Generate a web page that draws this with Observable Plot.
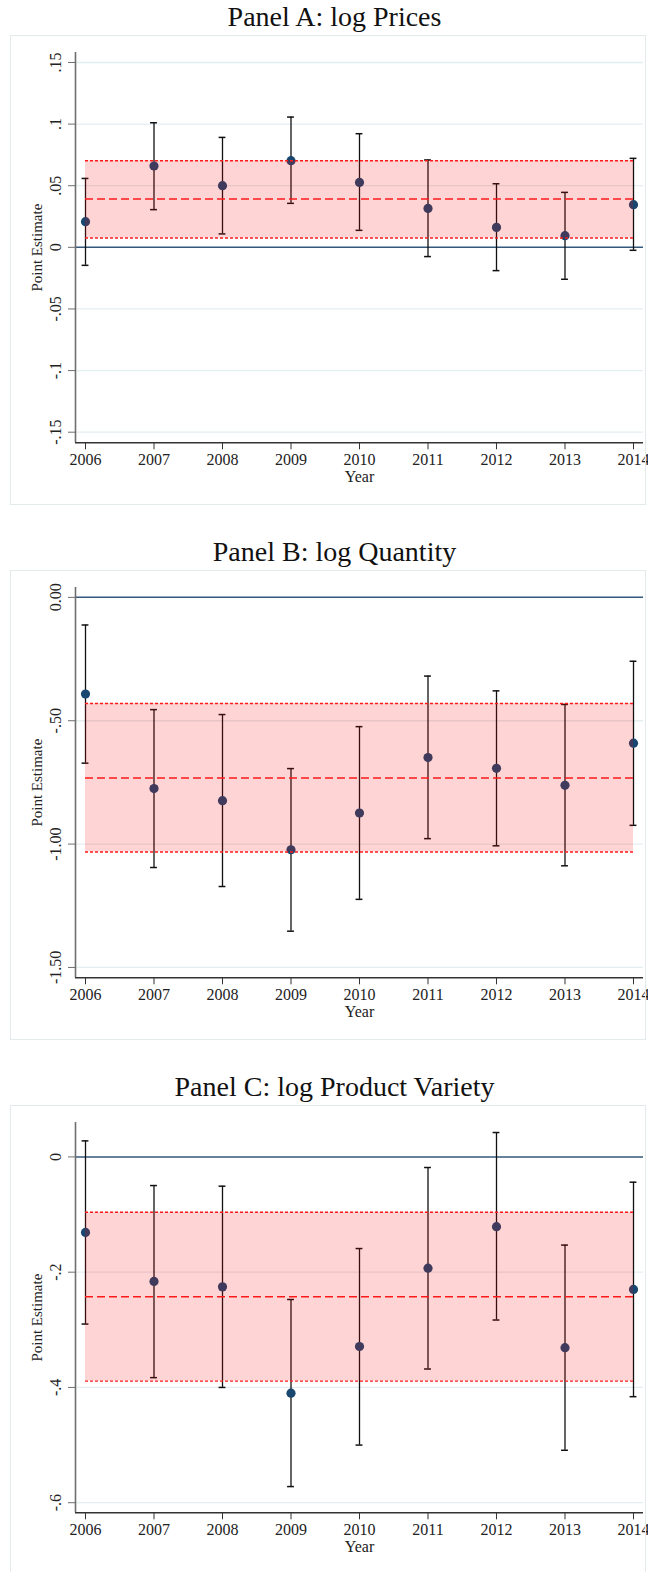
<!DOCTYPE html>
<html>
<head>
<meta charset="utf-8">
<script src="https://cdn.jsdelivr.net/npm/d3@7"></script>
<script src="https://cdn.jsdelivr.net/npm/@observablehq/plot@0.6"></script>
<style>
  html, body { margin: 0; padding: 0; background: #fff; }
  body { width: 648px; height: 1572px; overflow: hidden; position: relative; }
  .title { position: absolute; left: 21px; width: 627px; text-align: center;
    font-family: "Liberation Serif", "Times New Roman", serif; font-size: 28px; line-height: 34px; color: #111; }
  .box { position: absolute; left: 10px; width: 636px; height: 470px;
    outline: 1px solid #e2eaec; outline-offset: -1px; }
  .box svg { display: block; }
</style>
</head>
<body>
<script>
// ---------- data ----------
const years = [2006, 2007, 2008, 2009, 2010, 2011, 2012, 2013, 2014];

const titles = ["Panel A: log Prices", "Panel B: log Quantity", "Panel C: log Product Variety"];

// Panel A: log Prices
const priceEst = [0.0208, 0.0660, 0.0500, 0.0703, 0.0527, 0.0316, 0.0162, 0.0095, 0.0346];
const priceLo  = [-0.0146, 0.0306, 0.0109, 0.0357, 0.0138, -0.0075, -0.0189, -0.0259, -0.0024];
const priceHi  = [0.0559, 0.1011, 0.0892, 0.1057, 0.0922, 0.0709, 0.0516, 0.0446, 0.0722];
const priceAvg = [0.0392, 0.0076, 0.0703];   // mean, lower, upper
const priceDomain = [-0.1586, 0.1581];
const priceTicks = [-0.15, -0.1, -0.05, 0, 0.05, 0.1, 0.15];
const priceTickLabels = ["-.15", "-.1", "-.05", "0", ".05", ".1", ".15"];

// Panel B: log Quantity
const qtyEst = [-0.392, -0.775, -0.824, -1.023, -0.874, -0.649, -0.693, -0.762, -0.591];
const qtyLo  = [-0.672, -1.095, -1.172, -1.353, -1.224, -0.978, -1.007, -1.088, -0.924];
const qtyHi  = [-0.112, -0.455, -0.475, -0.694, -0.524, -0.319, -0.379, -0.434, -0.259];
const qtyAvg = [-0.732, -1.032, -0.430];
const qtyDomain = [-1.542, 0.040];
const qtyTicks = [0, -0.5, -1, -1.5];
const qtyTickLabels = ["0.00", "-.50", "-1.00", "-1.50"];

// Panel C: log Product Variety
const varEst = [-0.131, -0.216, -0.2255, -0.410, -0.329, -0.193, -0.121, -0.331, -0.230];
const varLo  = [-0.290, -0.383, -0.400, -0.572, -0.500, -0.368, -0.283, -0.509, -0.416];
const varHi  = [0.0278, -0.0497, -0.0508, -0.2474, -0.159, -0.0184, 0.0423, -0.153, -0.0439];
const varAvg = [-0.2428, -0.389, -0.0959];
const varDomain = [-0.6175, 0.0597];
const varTicks = [0, -0.2, -0.4, -0.6];
const varTickLabels = ["0", "-.2", "-.4", "-.6"];

const yLabel = "Point Estimate";
const xLabel = "Year";

// ---------- styles ----------
const SERIF = '"Liberation Serif", "Times New Roman", serif';
const NAVY = "#1a476f";
const ZERO = "#35597a";
const GRID = "#e4edf0";
const xDomain = [2005.854, 2014.146];
const CAP = 0.05;

function panel(est, lo, hi, avg, domain, ticks, tickLabels) {
  const data = years.map((y, i) => ({year: y, est: est[i], lo: lo[i], hi: hi[i]}));
  const band = [{x1: years[0], x2: years[years.length - 1], mean: avg[0], lo: avg[1], hi: avg[2]}];
  return Plot.plot({
    width: 636, height: 470,
    marginLeft: 65, marginRight: 3, marginTop: 17, marginBottom: 62.7,
    x: {domain: xDomain, axis: null},
    y: {domain: domain, axis: null},
    style: {fontFamily: SERIF, fontSize: "16px", background: "transparent", overflow: "visible", color: "#222"},
    marks: [
      Plot.ruleY(ticks.filter(t => t !== 0), {stroke: GRID, strokeWidth: 1.3}),
      Plot.ruleY([0], {stroke: ZERO, strokeWidth: 1.5}),
      Plot.ruleX([xDomain[0]], {stroke: "#6e6e6e", strokeWidth: 1.6}),
      Plot.ruleY([domain[0]], {stroke: "#333", strokeWidth: 1.6}),
      Plot.axisY({ticks: ticks, tickSize: 7, tickFormat: () => "", stroke: "#6e6e6e", label: null}),
      Plot.axisX({ticks: years, tickSize: 7, tickPadding: 4, tickFormat: d => String(d), stroke: "#333", fill: "#222", fontSize: 16, label: null}),
      Plot.text(ticks, {y: d => d, text: (d, i) => tickLabels[i], frameAnchor: "left", dx: -20, rotate: -90,
        textAnchor: "middle", lineAnchor: "middle", fontSize: 16, fill: "#222"}),
      Plot.text([yLabel], {frameAnchor: "left", dx: -38, rotate: -90, textAnchor: "middle", lineAnchor: "middle", fontSize: 15, fill: "#222"}),
      Plot.text([xLabel], {frameAnchor: "bottom", dy: 34.4, textAnchor: "middle", lineAnchor: "middle", fontSize: 16, fill: "#222"}),
      Plot.ruleX(data, {x: "year", y1: "lo", y2: "hi", stroke: "#111", strokeWidth: 1.3}),
      Plot.ruleY(data, {y: "hi", x1: d => d.year - CAP, x2: d => d.year + CAP, stroke: "#111", strokeWidth: 1.5}),
      Plot.ruleY(data, {y: "lo", x1: d => d.year - CAP, x2: d => d.year + CAP, stroke: "#111", strokeWidth: 1.5}),
      Plot.dot(data, {x: "year", y: "est", r: 4.6, fill: NAVY, stroke: "none"}),
      Plot.rect(band, {x1: "x1", x2: "x2", y1: "lo", y2: "hi", fill: "#ff0000", fillOpacity: 0.17}),
      Plot.ruleY(band, {y: "hi", x1: "x1", x2: "x2", stroke: "#ff1a1a", strokeWidth: 1.4, strokeDasharray: "3,2"}),
      Plot.ruleY(band, {y: "lo", x1: "x1", x2: "x2", stroke: "#ff1a1a", strokeWidth: 1.4, strokeDasharray: "3,2"}),
      Plot.ruleY(band, {y: "mean", x1: "x1", x2: "x2", stroke: "#ff1a1a", strokeWidth: 1.5, strokeDasharray: "8,4"})
    ]
  });
}

const charts = [
  panel(priceEst, priceLo, priceHi, priceAvg, priceDomain, priceTicks, priceTickLabels),
  panel(qtyEst, qtyLo, qtyHi, qtyAvg, qtyDomain, qtyTicks, qtyTickLabels),
  panel(varEst, varLo, varHi, varAvg, varDomain, varTicks, varTickLabels)
];

charts.forEach((chart, i) => {
  const top = i * 535;
  const t = document.createElement("div");
  t.className = "title";
  t.style.top = top + "px";
  t.textContent = titles[i];
  document.body.appendChild(t);
  const b = document.createElement("div");
  b.className = "box";
  b.style.top = (top + 35) + "px";
  b.appendChild(chart);
  document.body.appendChild(b);
});
</script>
</body>
</html>
